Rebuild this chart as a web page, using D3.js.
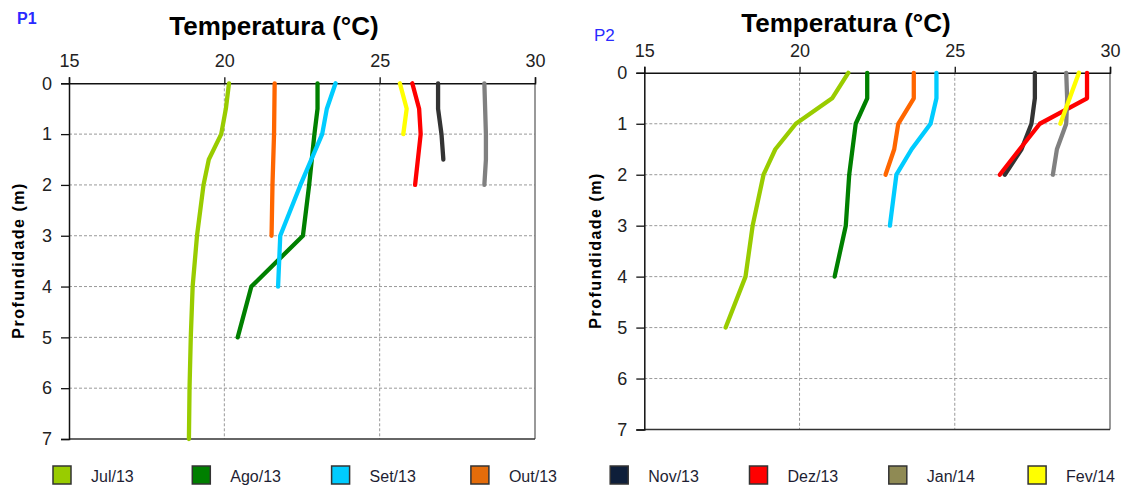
<!DOCTYPE html>
<html>
<head>
<meta charset="utf-8">
<script src="https://cdn.jsdelivr.net/npm/d3@7"></script>
<style>
  html, body { margin: 0; padding: 0; background: #fff; }
  svg { display: block; font-family: "Liberation Sans", Arial, sans-serif; }
</style>
</head>
<body>
<svg id="chart" width="1121" height="488"></svg>
<script>
// ---------- DATA ----------
const months = ["Jul/13", "Ago/13", "Set/13", "Out/13", "Nov/13", "Dez/13", "Jan/14", "Fev/14"];
const lineColors = ["#99cc00", "#008000", "#00ccff", "#ff6600", "#333333", "#ff0000", "#808080", "#ffff00"];
const legendColors = ["#99cc00", "#007f00", "#00ccff", "#e46c0a", "#0e1f3a", "#ff0000", "#8f8a54", "#ffff00"];
const xTicks = [15, 20, 25, 30];
const yTicks = [0, 1, 2, 3, 4, 5, 6, 7];
const panelLabels = ["P1", "P2"];
const titleText = "Temperatura (°C)";
const yTitle = "Profundidade (m)";

// P1: [depth (m), temperature (°C)]
const p1Jul = [[0, 20.15], [0.5, 20.05], [1, 19.9], [1.5, 19.5], [2, 19.33], [3, 19.12], [4, 18.98], [5, 18.92], [6, 18.88], [7, 18.86]];
const p1Ago = [[0, 23.0], [0.5, 23.0], [1, 22.9], [2, 22.73], [3, 22.53], [4, 20.87], [5, 20.43]];
const p1Set = [[0, 23.58], [0.5, 23.3], [1, 23.15], [2, 22.45], [3, 21.8], [4, 21.73]];
const p1Out = [[0, 21.62], [1, 21.6], [2, 21.55], [3, 21.52]];
const p1Nov = [[0, 26.88], [0.5, 26.88], [1, 26.99], [1.5, 27.05]];
const p1Dez = [[0, 26.05], [0.5, 26.27], [1, 26.32], [2, 26.14]];
const p1Jan = [[0, 28.37], [1, 28.42], [1.5, 28.42], [2, 28.37]];
const p1Fev = [[0, 25.65], [0.5, 25.87], [1, 25.76]];

// P2: [depth (m), temperature (°C)]
const p2Jul = [[0, 21.57], [0.5, 21.05], [1, 19.88], [1.5, 19.22], [2, 18.84], [3, 18.49], [4, 18.26], [5, 17.62]];
const p2Ago = [[0, 22.18], [0.5, 22.18], [1, 21.81], [2, 21.6], [3, 21.49], [4, 21.13]];
const p2Set = [[0, 24.41], [0.5, 24.41], [1, 24.22], [1.5, 23.61], [2, 23.12], [3, 22.91]];
const p2Out = [[0, 23.68], [0.5, 23.68], [1, 23.18], [1.5, 23.05], [2, 22.77]];
const p2Nov = [[0, 27.58], [0.5, 27.58], [1, 27.47], [1.5, 27.15], [2, 26.61]];
const p2Dez = [[0, 29.26], [0.5, 29.26], [1, 27.74], [1.5, 27.09], [2, 26.45]];
const p2Jan = [[0, 28.59], [0.5, 28.62], [1, 28.59], [1.5, 28.29], [2, 28.16]];
const p2Fev = [[0, 29.0], [0.5, 28.7], [1, 28.4]];

const p1Series = [p1Jul, p1Ago, p1Set, p1Out, p1Nov, p1Dez, p1Jan, p1Fev];
const p2Series = [p2Jul, p2Ago, p2Set, p2Out, p2Nov, p2Dez, p2Jan, p2Fev];

// ---------- LAYOUT ----------
const panels = [
  { series: p1Series, left: 69, right: 535, top: 83.3, bottom: 439,
    titleX: 274, titleY: 35, labelX: 17, labelY: 24, labelBold: true, yTitleX: 24 },
  { series: p2Series, left: 644.3, right: 1110, top: 72.8, bottom: 429.5,
    titleX: 846, titleY: 32, labelX: 594, labelY: 41, labelBold: false, yTitleX: 601 }
];

const svg = d3.select("#chart");
const font = "'Liberation Sans', Arial, sans-serif";

panels.forEach((p, pi) => {
  const x = d3.scaleLinear().domain([15, 30]).range([p.left, p.right]);
  const y = d3.scaleLinear().domain([0, 7]).range([p.top, p.bottom]);
  const g = svg.append("g");

  // grid
  g.selectAll(".hgrid").data(yTicks.filter(d => d > 0 && d < 7)).enter().append("line")
    .attr("x1", p.left).attr("x2", p.right)
    .attr("y1", d => y(d)).attr("y2", d => y(d))
    .attr("stroke", "#999").attr("stroke-width", 1).attr("stroke-dasharray", "3,2");
  g.selectAll(".vgrid").data(xTicks.filter(d => d > 15 && d < 30)).enter().append("line")
    .attr("x1", d => x(d)).attr("x2", d => x(d))
    .attr("y1", p.top).attr("y2", p.bottom)
    .attr("stroke", "#999").attr("stroke-width", 1).attr("stroke-dasharray", "3,2");

  // right & bottom border
  g.append("line").attr("x1", x(30)).attr("x2", x(30)).attr("y1", p.top).attr("y2", p.bottom)
    .attr("stroke", "#777").attr("stroke-width", 1.5);
  g.append("line").attr("x1", p.left).attr("x2", p.right).attr("y1", p.bottom).attr("y2", p.bottom)
    .attr("stroke", "#333").attr("stroke-width", 1.5);

  // axes
  const xAxis = d3.axisTop(x).tickValues(xTicks).tickSize(6).tickPadding(10).tickFormat(d3.format("d"));
  const yAxis = d3.axisLeft(y).tickValues(yTicks).tickSize(8).tickPadding(9).tickFormat(d3.format("d"));
  const gx = g.append("g").attr("transform", `translate(0,${p.top})`).call(xAxis);
  const gy = g.append("g").attr("transform", `translate(${p.left},0)`).call(yAxis);
  [gx, gy].forEach(a => {
    a.select(".domain").attr("stroke", "#111").attr("stroke-width", 1.5);
    a.selectAll(".tick line").attr("stroke", "#111").attr("stroke-width", 1.3);
    a.selectAll(".tick text").attr("fill", "#222").style("font-size", "18px").style("font-family", font);
  });

  // lines
  const line = d3.line().x(d => x(d[1])).y(d => y(d[0]));
  g.selectAll(".series").data(p.series).enter().append("path")
    .attr("d", d => line(d))
    .attr("fill", "none")
    .attr("stroke", (d, i) => lineColors[i])
    .attr("stroke-width", 4.3)
    .attr("stroke-linejoin", "round")
    .attr("stroke-linecap", "round");

  // title
  svg.append("text").attr("x", p.titleX).attr("y", p.titleY)
    .attr("text-anchor", "middle").style("font-size", "26px").style("font-weight", "bold")
    .style("font-family", font).attr("fill", "#000").text(titleText);

  // panel label
  svg.append("text").attr("x", p.labelX).attr("y", p.labelY)
    .style("font-size", p.labelBold ? "16px" : "17px").style("font-weight", p.labelBold ? "bold" : "normal")
    .style("font-family", font).attr("fill", "#2a2aff").text(panelLabels[pi]);

  // y title
  const cy = (p.top + p.bottom) / 2;
  svg.append("text")
    .attr("transform", `translate(${p.yTitleX},${cy}) rotate(-90)`)
    .attr("text-anchor", "middle")
    .attr("textLength", 155).attr("lengthAdjust", "spacing")
    .style("font-size", "16px").style("font-weight", "bold").style("font-family", font)
    .attr("fill", "#000").text(yTitle);
});

// legend
const leg = svg.append("g");
const lx = d3.scalePoint().domain(months).range([53, 53 + 139.3 * 7]);
const items = leg.selectAll(".item").data(months).enter().append("g")
  .attr("transform", d => `translate(${lx(d)},466)`);
items.append("rect").attr("width", 18).attr("height", 18)
  .attr("fill", (d, i) => legendColors[i]).attr("stroke", "#333").attr("stroke-width", 1.5);
items.append("text").attr("x", 38).attr("y", 16)
  .style("font-size", "16px").style("font-family", font).attr("fill", "#1e1e33").text(d => d);
</script>
</body>
</html>
